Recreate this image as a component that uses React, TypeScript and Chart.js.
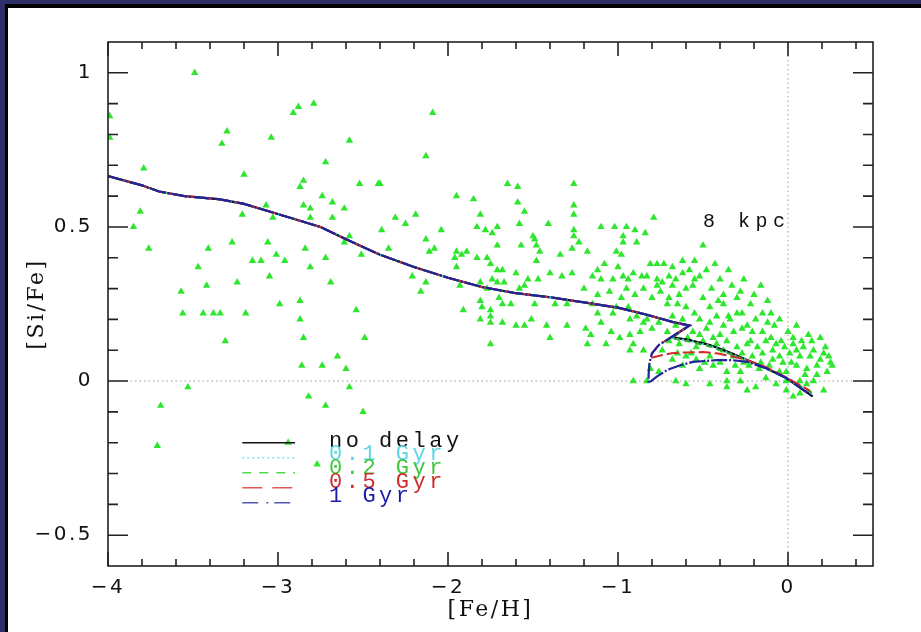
import React, { useEffect, useRef } from 'react';
import { Chart, registerables } from 'chart.js';

Chart.register(...registerables);

// ---- axis ticks ----
const X_TICKS = [-4, -3, -2, -1, 0];
const X_MINOR = [-3.8, -3.6, -3.4, -3.2, -2.8, -2.6, -2.4, -2.2, -1.8, -1.6, -1.4, -1.2, -0.8, -0.6, -0.4, -0.2, 0.2, 0.4];
const Y_TICKS = [-0.5, 0, 0.5, 1];
const Y_MINOR = [-0.4, -0.3, -0.2, -0.1, 0.1, 0.2, 0.3, 0.4, 0.6, 0.7, 0.8, 0.9];

// ---- model curves ([Fe/H], [Si/Fe]) ----
const MAIN_FEH = [-4.0, -3.8, -3.7, -3.55, -3.35, -3.2, -3.05, -2.9, -2.75, -2.6, -2.5, -2.4, -2.2, -2.0, -1.8, -1.6, -1.4, -1.2, -1.0, -0.83, -0.68, -0.58];
const MAIN_SIFE = [0.665, 0.635, 0.615, 0.6, 0.59, 0.575, 0.55, 0.525, 0.5, 0.46, 0.435, 0.41, 0.37, 0.335, 0.305, 0.285, 0.272, 0.255, 0.238, 0.215, 0.192, 0.18];

const NODELAY_TAIL_FEH = [-0.684, -0.58, -0.46, -0.35, -0.24, -0.13, -0.01, 0.145];
const NODELAY_TAIL_SIFE = [0.143, 0.133, 0.117, 0.094, 0.068, 0.042, 0.01, -0.05];
const GYR01_TAIL_FEH = [-0.684, -0.58, -0.46, -0.35, -0.24, -0.13, -0.01, 0.15];
const GYR01_TAIL_SIFE = [0.141, 0.131, 0.115, 0.092, 0.067, 0.041, 0.009, -0.045];
const GYR02_TAIL_FEH = [-0.684, -0.58, -0.46, -0.35, -0.24, -0.13, -0.01, 0.14];
const GYR02_TAIL_SIFE = [0.139, 0.128, 0.112, 0.09, 0.066, 0.04, 0.01, -0.038];
const GYR05_TAIL_FEH = [-0.684, -0.76, -0.8, -0.81, -0.75, -0.685, -0.6, -0.5, -0.42, -0.33, -0.24, -0.13, -0.01, 0.13];
const GYR05_TAIL_SIFE = [0.143, 0.117, 0.09, 0.075, 0.083, 0.09, 0.093, 0.094, 0.09, 0.08, 0.068, 0.045, 0.012, -0.032];
const GYR1_TAIL_FEH = [-0.684, -0.76, -0.8, -0.815, -0.82, -0.82, -0.77, -0.71, -0.63, -0.56, -0.42, -0.33, -0.24, -0.13, -0.01, 0.145];
const GYR1_TAIL_SIFE = [0.143, 0.117, 0.09, 0.06, 0.02, -0.006, 0.015, 0.036, 0.052, 0.062, 0.068, 0.068, 0.062, 0.042, 0.01, -0.05];

// ---- observed stars ([Fe/H], [Si/Fe]) ----
const STARS_METAL_POOR: [number, number][] = [
  [-3.49, 1.0], [-3.99, 0.86], [-3.99, 0.79], [-3.79, 0.69], [-3.3, 0.81], [-3.33, 0.77], [-3.2, 0.67],
  [-3.04, 0.79], [-2.88, 0.89], [-2.91, 0.87], [-2.79, 0.9], [-2.58, 0.78], [-2.72, 0.71], [-2.52, 0.64],
  [-2.41, 0.64], [-2.85, 0.65], [-2.87, 0.63], [-2.74, 0.6], [-2.68, 0.58], [-2.61, 0.56], [-2.85, 0.57],
  [-2.81, 0.56], [-3.07, 0.57], [-3.81, 0.55], [-3.21, 0.54], [-3.03, 0.53], [-2.81, 0.53], [-2.68, 0.53],
  [-2.09, 0.87],
  [-3.85, 0.5], [-3.76, 0.43], [-3.57, 0.29], [-3.56, 0.22], [-3.47, 0.37], [-3.44, 0.22], [-3.42, 0.31],
  [-3.41, 0.43], [-3.38, 0.22], [-3.34, 0.22], [-3.31, 0.13], [-3.27, 0.45], [-3.24, 0.32], [-3.19, 0.22],
  [-3.15, 0.39], [-3.1, 0.39], [-3.06, 0.45], [-3.05, 0.34], [-3.01, 0.41], [-2.96, 0.39], [-2.99, 0.25],
  [-2.87, 0.26], [-2.87, 0.2], [-2.85, 0.14], [-2.84, 0.43], [-2.81, 0.37], [-2.72, 0.4], [-2.69, 0.32],
  [-2.61, 0.45], [-2.58, 0.47], [-2.54, 0.23], [-2.51, 0.41], [-3.53, -0.02], [-3.69, -0.08], [-3.71, -0.21],
  [-2.86, 0.05], [-2.82, -0.05], [-2.74, 0.05], [-2.65, 0.08], [-2.6, 0.04], [-2.58, -0.02], [-2.72, -0.08],
  [-2.5, -0.1], [-2.49, 0.14], [-2.94, -0.2], [-2.77, -0.27],
];
const STARS_INTERMEDIATE: [number, number][] = [
  [-2.13, 0.73], [-2.4, 0.64], [-1.65, 0.64], [-1.59, 0.63], [-1.26, 0.64], [-1.95, 0.6], [-1.85, 0.59],
  [-1.59, 0.58], [-1.26, 0.57], [-1.55, 0.55], [-1.26, 0.54], [-2.31, 0.53], [-2.19, 0.54], [-2.25, 0.51],
  [-1.81, 0.54], [-0.79, 0.53], [-2.39, 0.49], [-2.04, 0.49], [-1.83, 0.5], [-1.78, 0.49], [-1.71, 0.5],
  [-1.74, 0.48], [-1.58, 0.51], [-1.41, 0.51], [-1.26, 0.49], [-1.26, 0.47], [-1.23, 0.45], [-1.1, 0.5],
  [-1.02, 0.5], [-0.95, 0.5], [-0.9, 0.49], [-0.84, 0.48], [-0.97, 0.47], [-0.97, 0.45], [-0.89, 0.45],
  [-1.5, 0.47], [-1.49, 0.46], [-1.48, 0.44], [-2.13, 0.46], [-2.08, 0.43], [-2.11, 0.42], [-2.35, 0.43],
  [-1.71, 0.44], [-1.57, 0.44], [-1.95, 0.42], [-1.92, 0.41], [-1.89, 0.42], [-1.96, 0.4], [-1.95, 0.37],
  [-1.83, 0.4], [-1.77, 0.4], [-1.46, 0.42], [-1.34, 0.41], [-1.27, 0.43], [-1.18, 0.42], [-1.01, 0.42],
  [-0.98, 0.41], [-1.75, 0.38], [-1.71, 0.36], [-1.68, 0.36], [-1.74, 0.33], [-1.71, 0.32], [-1.67, 0.32],
  [-1.6, 0.35], [-1.48, 0.39], [-1.47, 0.33], [-1.53, 0.33], [-1.55, 0.31], [-1.4, 0.35], [-1.33, 0.34],
  [-1.27, 0.35], [-1.12, 0.36], [-1.15, 0.34], [-1.1, 0.33], [-1.03, 0.33], [-0.97, 0.34], [-0.94, 0.33],
  [-0.91, 0.35], [-0.86, 0.34], [-0.81, 0.38], [-0.77, 0.38], [-0.73, 0.38], [-0.68, 0.37], [-0.83, 0.34],
  [-0.77, 0.33], [-0.74, 0.32], [-0.77, 0.31], [-0.68, 0.31], [-2.21, 0.34], [-2.13, 0.32], [-2.16, 0.29],
  [-1.93, 0.31], [-1.91, 0.23], [-1.81, 0.32], [-1.77, 0.3], [-1.7, 0.27], [-1.68, 0.25], [-1.63, 0.25],
  [-1.58, 0.3], [-1.81, 0.26], [-1.8, 0.24], [-1.75, 0.23], [-1.75, 0.21], [-1.75, 0.19], [-1.68, 0.19],
  [-1.81, 0.2], [-1.6, 0.18], [-1.55, 0.18], [-1.51, 0.2], [-1.42, 0.18], [-1.3, 0.18], [-1.49, 0.25],
  [-1.37, 0.25], [-1.3, 0.25], [-1.4, 0.14], [-1.15, 0.25], [-1.12, 0.22], [-1.1, 0.19], [-1.19, 0.17],
  [-1.16, 0.15], [-1.04, 0.16], [-1.03, 0.22], [-1.01, 0.24], [-0.94, 0.24], [-0.93, 0.2], [-0.89, 0.21],
  [-0.85, 0.19], [-0.83, 0.2], [-0.76, 0.19], [-0.8, 0.17], [-0.87, 0.16], [-0.93, 0.15], [-0.99, 0.14],
  [-1.07, 0.12], [-0.91, 0.12], [-1.18, 0.12], [-1.75, 0.12],
  [-1.05, 0.29], [-1.12, 0.28], [-1.2, 0.3], [-1.08, 0.38], [-1.0, 0.37], [-0.98, 0.27], [-0.95, 0.3],
];
const STARS_METAL_RICH: [number, number][] = [
  [-0.71, 0.25], [-0.6, 0.24], [-0.46, 0.24], [-0.38, 0.25],
  [-0.68, 0.21], [-0.62, 0.2], [-0.52, 0.2], [-0.46, 0.19], [-0.42, 0.21], [-0.34, 0.2], [-0.3, 0.22],
  [-0.24, 0.18], [-0.19, 0.2],
  [-0.71, 0.16], [-0.66, 0.18], [-0.56, 0.16], [-0.52, 0.15], [-0.48, 0.17], [-0.44, 0.14], [-0.38, 0.18],
  [-0.32, 0.16], [-0.27, 0.17], [-0.21, 0.16], [-0.15, 0.16],
  [-0.64, 0.12], [-0.54, 0.11], [-0.5, 0.13], [-0.42, 0.12], [-0.36, 0.13], [-0.3, 0.11], [-0.24, 0.12],
  [-0.18, 0.11], [-0.13, 0.13], [-0.07, 0.12], [-0.04, 0.13], [0.03, 0.12], [0.09, 0.11], [0.15, 0.1],
  [0.19, 0.14],
  [-0.93, 0.1], [-0.85, 0.1], [-0.74, 0.1], [-0.68, 0.07], [-0.6, 0.08], [-0.54, 0.07], [-0.46, 0.08],
  [-0.38, 0.1], [-0.32, 0.08], [-0.27, 0.09], [-0.21, 0.08], [-0.15, 0.09], [-0.09, 0.1], [-0.05, 0.08],
  [0.01, 0.09], [0.07, 0.08], [0.13, 0.08], [0.19, 0.07], [0.24, 0.08],
  [-0.81, 0.04], [-0.76, 0.03], [-0.62, 0.05], [-0.52, 0.04], [-0.44, 0.05], [-0.36, 0.03], [-0.28, 0.03],
  [-0.23, 0.05], [-0.17, 0.04], [-0.11, 0.05], [-0.05, 0.03], [-0.01, 0.03], [0.05, 0.05], [0.11, 0.04],
  [0.17, 0.05], [0.23, 0.03], [0.26, 0.05],
  [-0.91, 0.0], [-0.83, 0.0], [-0.66, 0.0], [-0.6, -0.01], [-0.46, -0.01], [-0.36, 0.0], [-0.28, 0.0],
  [-0.19, -0.02], [-0.13, 0.01], [-0.07, -0.01], [-0.01, 0.0], [0.07, 0.0], [0.11, -0.01], [0.15, 0.0],
  [-0.36, -0.02], [-0.24, -0.03], [-0.01, -0.03], [0.07, -0.04], [0.03, -0.05], [0.21, -0.03],
  [-0.5, 0.44], [-0.43, 0.38], [-0.35, 0.36], [-0.26, 0.33], [-0.16, 0.31], [-0.55, 0.33], [-0.6, 0.3],
  [-0.64, 0.28], [-0.45, 0.3], [-0.38, 0.28], [-0.3, 0.27], [-0.22, 0.25], [-0.1, 0.22], [-0.05, 0.2],
  [0.05, 0.18], [0.12, 0.15], [-0.58, 0.36], [-0.66, 0.33],
  [-0.9, 0.28], [-0.85, 0.3], [-0.8, 0.27], [-0.75, 0.29], [-0.7, 0.27], [-0.65, 0.25], [-0.62, 0.35],
  [-0.56, 0.31], [-0.52, 0.34], [-0.48, 0.36], [-0.4, 0.33], [-0.33, 0.31], [-0.28, 0.29], [-0.2, 0.28],
  [-0.12, 0.26], [-0.08, 0.18], [0.0, 0.16], [0.03, 0.14], [0.08, 0.13], [0.14, 0.13], [0.22, 0.11],
  [0.25, 0.06], [0.21, 0.09], [0.17, 0.02], [0.1, 0.02], [0.02, 0.06], [-0.03, 0.06], [-0.09, 0.07],
  [-0.16, 0.06], [-0.26, 0.06], [-0.31, 0.05], [-0.4, 0.06], [-0.49, 0.06], [-0.57, 0.09], [-0.65, 0.09],
  [-0.7, 0.13], [-0.59, 0.14], [-0.4, 0.15], [-0.35, 0.21], [-0.27, 0.22], [-0.15, 0.22], [-0.12, 0.19],
  [-0.02, 0.11], [0.05, 0.1], [-0.22, 0.13], [-0.1, 0.14], [-0.55, 0.22], [-0.5, 0.27], [-0.41, 0.26],
  [-0.7, 0.34], [-0.62, 0.39], [-0.55, 0.39],
];

// ---- legend ----
const LEGEND_LABELS = ['no delay', '0.1 Gyr', '0.2 Gyr', '0.5 Gyr', '1 Gyr'];
const LEGEND_TEXT_COLORS = ['#111111', '#5fd6e4', '#3cc63c', '#d02a2a', '#1c1ca8'];
const LEGEND_LINE_COLORS = ['#111111', '#7fe2ec', '#4ed84e', '#e05858', '#5656b2'];
const LEGEND_DASHES = [[], [2, 3], [9, 8], [20, 10], [16, 8, 2, 6]];
const PANEL_LABEL = '8 kpc';

const fmt = (v: number) => (v < 0 ? '\u2212' + String(Math.abs(v)) : String(v));
const pts = (xs: number[], ys: number[]) => xs.map((x, i) => ({ x, y: ys[i] }));

const SCALE_SPACING = '2.5px';

const decor = {
  id: 'decor',
  beforeUpdate(chart: any) { chart.ctx.letterSpacing = SCALE_SPACING; },
  beforeLayout(chart: any) { chart.ctx.letterSpacing = SCALE_SPACING; },
  beforeDraw(chart: any) { chart.ctx.letterSpacing = SCALE_SPACING; },
  beforeDatasetsDraw(chart: any) {
    const { ctx, chartArea: a, scales } = chart;
    const x0 = scales.x.getPixelForValue(0);
    const y0 = scales.y.getPixelForValue(0);
    ctx.save();
    ctx.strokeStyle = '#9a9a9a';
    ctx.lineWidth = 1;
    ctx.setLineDash([1.5, 3]);
    ctx.beginPath();
    ctx.moveTo(x0, a.top); ctx.lineTo(x0, a.bottom);
    ctx.moveTo(a.left, y0); ctx.lineTo(a.right, y0);
    ctx.stroke();
    ctx.restore();
  },
  afterDatasetsDraw(chart: any) {
    const { ctx, chartArea: a, scales } = chart;
    const xs = scales.x, ys = scales.y;
    ctx.save();
    ctx.strokeStyle = '#222';
    ctx.lineWidth = 1.6;
    ctx.setLineDash([]);
    ctx.strokeRect(a.left, a.top, a.right - a.left, a.bottom - a.top);
    ctx.beginPath();
    const xt = (v: number, len: number) => {
      const p = xs.getPixelForValue(v);
      ctx.moveTo(p, a.bottom); ctx.lineTo(p, a.bottom - len);
      ctx.moveTo(p, a.top); ctx.lineTo(p, a.top + len);
    };
    const yt = (v: number, len: number) => {
      const p = ys.getPixelForValue(v);
      ctx.moveTo(a.left, p); ctx.lineTo(a.left + len, p);
      ctx.moveTo(a.right, p); ctx.lineTo(a.right - len, p);
    };
    X_TICKS.forEach(v => xt(v, 14));
    X_MINOR.forEach(v => xt(v, 7));
    Y_TICKS.forEach(v => yt(v, 20));
    Y_MINOR.forEach(v => yt(v, 10));
    ctx.stroke();

    // legend
    const lx0 = xs.getPixelForValue(-3.21);
    const lx1 = xs.getPixelForValue(-2.9);
    const tx = xs.getPixelForValue(-2.7);
    const ly = ys.getPixelForValue(-0.2);
    ctx.font = '22px "Liberation Mono"';
    ctx.letterSpacing = '3.5px';
    ctx.textBaseline = 'alphabetic';
    ctx.textAlign = 'left';
    LEGEND_LABELS.forEach((lab, i) => {
      const yy = ly + 15 * i;
      ctx.beginPath();
      ctx.strokeStyle = LEGEND_LINE_COLORS[i];
      ctx.lineWidth = 1.6;
      ctx.setLineDash(LEGEND_DASHES[i]);
      ctx.moveTo(lx0, yy); ctx.lineTo(lx1, yy);
      ctx.stroke();
      ctx.fillStyle = LEGEND_TEXT_COLORS[i];
      ctx.fillText(lab, tx, ly + 4 + 13.75 * i);
    });

    // panel label
    ctx.font = '20px "Liberation Mono"';
    ctx.letterSpacing = '5.5px';
    ctx.fillStyle = '#111';
    ctx.fillText(PANEL_LABEL, xs.getPixelForValue(-0.5), ys.getPixelForValue(0.5));
    ctx.restore();
  },
};

export default function App() {
  const ref = useRef<HTMLCanvasElement>(null);
  useEffect(() => {
    document.body.style.margin = '0';
    const canvas = ref.current!;
    const stars = [...STARS_METAL_POOR, ...STARS_INTERMEDIATE, ...STARS_METAL_RICH].map(([x, y]) => ({ x, y }));
    const model = (tf: number[], ts: number[]) => pts([...MAIN_FEH, ...tf], [...MAIN_SIFE, ...ts]);
    const lineDs = (label: string, data: any[], color: string, dash: number[], order: number, width: number) => ({
      label, data, showLine: true, borderColor: color, borderWidth: width, borderDash: dash,
      pointRadius: 0, pointHoverRadius: 0, tension: 0, fill: false, order,
    });
    const chart = new Chart(canvas, {
      type: 'scatter',
      data: {
        datasets: [
          lineDs('1 Gyr', model(GYR1_TAIL_FEH, GYR1_TAIL_SIFE), '#22229a', [16, 2, 2, 2], 1, 2.2),
          lineDs('0.5 Gyr', model(GYR05_TAIL_FEH, GYR05_TAIL_SIFE), '#d22a2a', [12, 4], 2, 2),
          lineDs('0.2 Gyr', model(GYR02_TAIL_FEH, GYR02_TAIL_SIFE), '#2aa82a', [6, 5], 3, 2),
          lineDs('0.1 Gyr', model(GYR01_TAIL_FEH, GYR01_TAIL_SIFE), '#3ccfe0', [2, 3], 4, 2),
          lineDs('no delay', model(NODELAY_TAIL_FEH, NODELAY_TAIL_SIFE), '#000000', [], 5, 2.2),
          {
            label: 'stars', data: stars, pointStyle: 'triangle', pointRadius: 4.3, pointHoverRadius: 4.3,
            backgroundColor: '#2ee62e', borderColor: '#2ee62e', borderWidth: 0, order: 6,
          } as any,
        ],
      },
      options: {
        responsive: false,
        animation: false,
        events: [],
        layout: { padding: { left: 0, top: 34, right: 48, bottom: 0 } },
        plugins: { legend: { display: false }, tooltip: { enabled: false } },
        scales: {
          x: {
            type: 'linear', position: 'bottom', min: -4, max: 0.5,
            afterBuildTicks: (s: any) => { s.ticks = X_TICKS.map(v => ({ value: v })); },
            afterFit: (s: any) => { s.height = 66; },
            grid: { display: false, drawTicks: false },
            border: { display: false },
            ticks: { padding: 10, color: '#111', font: { family: 'DejaVu Sans', size: 20 }, callback: (v: any) => fmt(Number(v)), maxRotation: 0 },
            title: { display: true, text: '[Fe/H]', color: '#111', font: { family: 'DejaVu Serif', size: 22 }, padding: { top: 0, bottom: 9 } },
          },
          y: {
            type: 'linear', position: 'left', min: -0.6, max: 1.1,
            afterBuildTicks: (s: any) => { s.ticks = Y_TICKS.map(v => ({ value: v })); },
            afterFit: (s: any) => { s.width = 100; },
            grid: { display: false, drawTicks: false },
            border: { display: false },
            ticks: { padding: 15, color: '#111', font: { family: 'DejaVu Sans', size: 20 }, callback: (v: any) => fmt(Number(v)) },
            title: { display: true, text: '[Si/Fe]', color: '#111', font: { family: 'DejaVu Serif', size: 22 }, padding: { top: 16, bottom: 0 } },
          },
        },
      },
      plugins: [decor],
    } as any);
    return () => chart.destroy();
  }, []);

  return (
    <div style={{ position: 'relative', width: 921, height: 632, background: '#2e2f66', overflow: 'hidden' }}>
      <div style={{ position: 'absolute', left: 5, top: 4, right: 0, bottom: 0, background: '#000' }} />
      <div style={{ position: 'absolute', left: 8, top: 8, right: 0, bottom: 0, background: '#fff' }}>
        <canvas ref={ref} width={913} height={624} style={{ display: 'block', width: 913, height: 624 }} />
      </div>
    </div>
  );
}
